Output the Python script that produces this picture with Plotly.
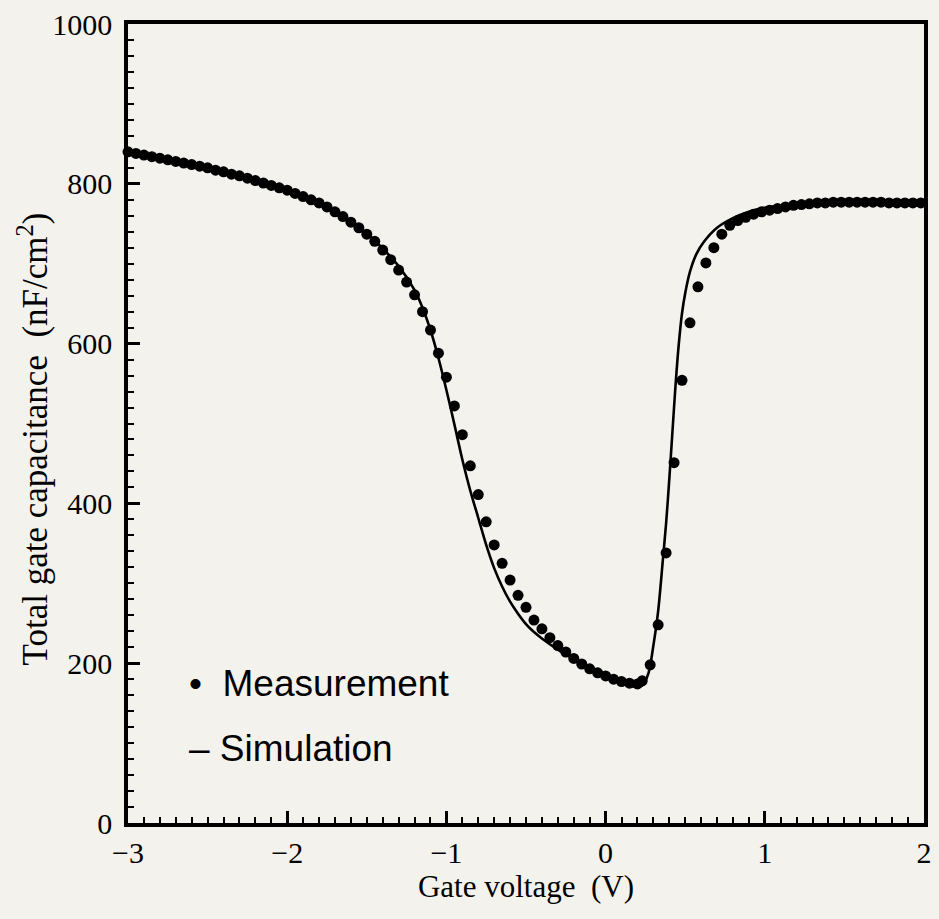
import plotly.graph_objects as go

# Measurement (dots)
meas_v = [-3.00, -2.95, -2.90, -2.85, -2.80, -2.75, -2.70, -2.65, -2.60, -2.55,
          -2.50, -2.45, -2.40, -2.35, -2.30, -2.25, -2.20, -2.15, -2.10, -2.05,
          -2.00, -1.95, -1.90, -1.85, -1.80, -1.75, -1.70, -1.65, -1.60, -1.55,
          -1.50, -1.45, -1.40, -1.35, -1.30, -1.25, -1.20, -1.15, -1.10, -1.05,
          -1.00, -0.95, -0.90, -0.85, -0.80, -0.75, -0.70, -0.65, -0.60, -0.55,
          -0.50, -0.45, -0.40, -0.35, -0.30, -0.25, -0.20, -0.15, -0.10, -0.05,
          0.00, 0.05, 0.10, 0.15, 0.20, 0.23, 0.28, 0.33, 0.38, 0.43,
          0.48, 0.53, 0.58, 0.63, 0.68, 0.73, 0.78, 0.83, 0.88, 0.93,
          0.98, 1.03, 1.08, 1.13, 1.18, 1.23, 1.28, 1.33, 1.38, 1.43,
          1.48, 1.53, 1.58, 1.63, 1.68, 1.73, 1.78, 1.83, 1.88, 1.93, 1.98]
meas_c = [840, 838, 836, 834, 832, 830, 828, 826, 824, 822,
          820, 817, 815, 812, 810, 807, 804, 801, 798, 795,
          792, 788, 784, 780, 776, 771, 765, 759, 752, 745,
          737, 728, 717, 705, 692, 677, 661, 640, 617, 588,
          558, 522, 486, 447, 411, 377, 348, 325, 304, 285,
          270, 254, 243, 232, 222, 214, 206, 199, 193, 188,
          184, 180, 177, 175, 174, 178, 198, 248, 338, 451,
          554, 626, 671, 701, 720, 737, 748, 754, 758, 762,
          765, 767, 769, 771, 773, 774, 775, 776, 776, 777,
          777, 777, 777, 777, 777, 777, 776, 776, 776, 776, 776]

# Simulation (line)
sim_v = [-3.0, -2.5, -2.0, -1.75, -1.5, -1.4, -1.3, -1.2, -1.15, -1.1, -1.05, -1.0,
         -0.95, -0.9, -0.85, -0.8, -0.75, -0.7, -0.65, -0.6, -0.55, -0.5, -0.45,
         -0.4, -0.3, -0.2, -0.1, 0.0, 0.1, 0.19, 0.23, 0.27, 0.30, 0.33, 0.36,
         0.38, 0.40, 0.42, 0.44, 0.46, 0.48, 0.50, 0.53, 0.57, 0.62, 0.70, 0.80,
         0.90, 1.0, 1.2, 1.5, 2.0]
sim_c = [842, 820, 792, 772, 738, 719, 697, 667, 645, 617, 582, 542,
         499, 455, 416, 382, 348, 319, 296, 277, 262, 249, 239,
         231, 217, 205, 194, 184, 176, 170, 172, 188, 222, 265, 330,
         375, 430, 490, 550, 600, 638, 663, 690, 712, 728, 745, 757,
         765, 770, 775, 777, 776]

x_ticks = [-3, -2, -1, 0, 1, 2]
x_tick_text = ["\u22123", "\u22122", "\u22121", "0", "1", "2"]
y_ticks = [0, 200, 400, 600, 800, 1000]

bg = "#F4F2EC"
serif = "Liberation Serif, Times New Roman, serif"
sans = "Liberation Sans, Arial, sans-serif"

fig = go.Figure()
fig.add_trace(go.Scatter(x=sim_v, y=sim_c, mode="lines",
                         line=dict(color="black", width=2.6, shape="spline", smoothing=0.8),
                         showlegend=False, cliponaxis=False))
fig.add_trace(go.Scatter(x=meas_v, y=meas_c, mode="markers",
                         marker=dict(color="black", size=11),
                         showlegend=False, cliponaxis=False))

fig.add_annotation(x=-2.63, y=175, xref="x", yref="y", xanchor="left", yanchor="middle",
                   text="•  Measurement", showarrow=False,
                   font=dict(family=sans, size=37, color="black"))
fig.add_annotation(x=-2.63, y=93, xref="x", yref="y", xanchor="left", yanchor="middle",
                   text="– Simulation", showarrow=False,
                   font=dict(family=sans, size=37, color="black"))
fig.add_annotation(x=0, y=0.48, xref="paper", yref="paper", xanchor="center", yanchor="middle",
                   xshift=-95, textangle=-90, showarrow=False,
                   text="Total gate capacitance  (nF/cm<sup>2</sup>)",
                   font=dict(family=serif, size=35, color="black"))

fig.update_xaxes(range=[-3, 2], tickvals=x_ticks, ticktext=x_tick_text,
                 showgrid=False, zeroline=False,
                 showline=True, linecolor="black", linewidth=3.5, mirror=True,
                 ticks="inside", ticklen=12, tickwidth=2.5, tickcolor="black",
                 minor=dict(dtick=0.1, tick0=-3, ticks="inside", ticklen=6, tickwidth=2, tickcolor="black"),
                 tickfont=dict(family=serif, size=30, color="black"),
                 title=dict(text="Gate voltage  (V)", font=dict(family=serif, size=31, color="black"),
                            standoff=4))
fig.update_yaxes(range=[0, 1000], tickvals=y_ticks,
                 showgrid=False, zeroline=False,
                 showline=True, linecolor="black", linewidth=3.5, mirror=True,
                 ticks="inside", ticklen=12, tickwidth=2.5, tickcolor="black",
                 minor=dict(dtick=20, tick0=0, ticks="inside", ticklen=6, tickwidth=2, tickcolor="black"),
                 tickfont=dict(family=serif, size=30, color="black"),
                 ticklabelstandoff=6)

fig.update_layout(width=939, height=919, margin=dict(l=128, r=7, t=21, b=96),
                  paper_bgcolor=bg, plot_bgcolor=bg)

fig.write_html("out.html")
